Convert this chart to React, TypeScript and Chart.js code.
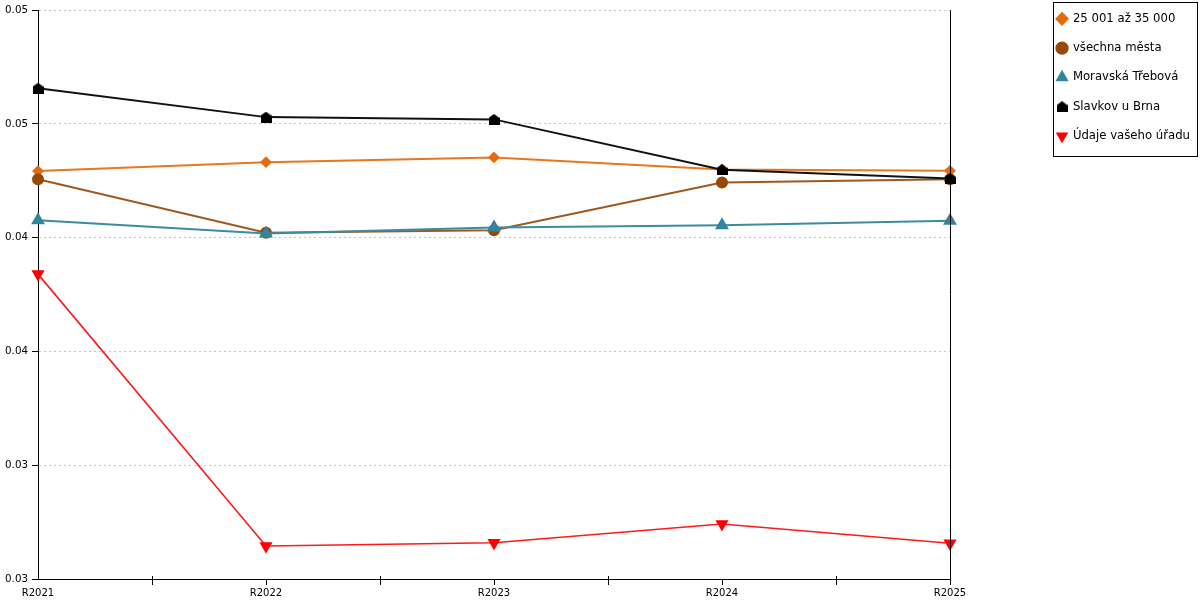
import { useEffect, useRef } from "react";
import { Chart, registerables } from "chart.js";

Chart.register(...registerables);

const years = ["R2021", "R2022", "R2023", "R2024", "R2025"];
const yTickLabels = ["0.03", "0.03", "0.04", "0.04", "0.05", "0.05"];

const sizeBand = [0.04793, 0.04832, 0.04853, 0.048, 0.04794];
const allTowns = [0.04757, 0.04522, 0.04533, 0.04743, 0.04757];
const moravskaTrebova = [0.04577, 0.04519, 0.04545, 0.04555, 0.04574];
const slavkov = [0.05157, 0.0503, 0.0502, 0.04799, 0.0476];
const yourOffice = [0.0434, 0.03145, 0.03159, 0.03242, 0.03157];

const FONT = "DejaVu Sans";

// house-shaped marker (roof + square)
function houseMarker(color: string) {
  const c = document.createElement("canvas");
  c.width = 11;
  c.height = 11;
  const ctx = c.getContext("2d")!;
  ctx.fillStyle = color;
  ctx.beginPath();
  ctx.moveTo(5.5, 0);
  ctx.lineTo(11, 4);
  ctx.lineTo(11, 11);
  ctx.lineTo(0, 11);
  ctx.lineTo(0, 4);
  ctx.closePath();
  ctx.fill();
  return c;
}

const framePlugin = {
  id: "frame",
  afterDraw(chart: any) {
    const { ctx, chartArea } = chart;
    ctx.save();
    ctx.strokeStyle = "#000";
    ctx.lineWidth = 1;
    // right border
    const rx = Math.round(chartArea.right) + 0.5;
    ctx.beginPath();
    ctx.moveTo(rx, chartArea.top);
    ctx.lineTo(rx, chartArea.bottom);
    ctx.stroke();
    // minor ticks between categories
    const x = chart.scales.x;
    ctx.beginPath();
    for (let i = 0; i < years.length - 1; i++) {
      const mx = Math.round((x.getPixelForValue(i) + x.getPixelForValue(i + 1)) / 2) + 0.5;
      ctx.moveTo(mx, chartArea.bottom - 3);
      ctx.lineTo(mx, chartArea.bottom + 6);
    }
    ctx.stroke();
    // legend border
    const boxes = chart.legend?.legendHitBoxes || [];
    if (boxes.length) {
      const left = Math.min(...boxes.map((b: any) => b.left)) - 4;
      const top = boxes[0].top - 11;
      const last = boxes[boxes.length - 1];
      const bottom = last.top + 12 + 14;
      const right = chart.width - 3;
      ctx.strokeRect(Math.round(left) + 0.5, Math.round(top) + 0.5, Math.round(right - left), Math.round(bottom - top));
    }
    ctx.restore();
  },
};

export default function App() {
  const canvasRef = useRef<HTMLCanvasElement | null>(null);

  useEffect(() => {
    if (!canvasRef.current) return;
    const house = houseMarker("#000000");

    const chart = new Chart(canvasRef.current, {
      type: "line",
      data: {
        labels: years,
        datasets: [
          {
            label: "25 001 až 35 000",
            data: sizeBand,
            borderColor: "#E8761E",
            backgroundColor: "#E46C0A",
            pointBorderColor: "#E46C0A",
            pointStyle: "rectRot",
            pointRadius: 4.5,
            borderWidth: 2,
            order: 4,
          },
          {
            label: "všechna města",
            data: allTowns,
            borderColor: "#A0581E",
            backgroundColor: "#984807",
            pointBorderColor: "#984807",
            pointStyle: "circle",
            pointRadius: 5,
            borderWidth: 2,
            order: 3,
          },
          {
            label: "Moravská Třebová",
            data: moravskaTrebova,
            borderColor: "#3A8CA2",
            backgroundColor: "#31859C",
            pointBorderColor: "#31859C",
            pointStyle: "triangle",
            pointRadius: 6,
            borderWidth: 2,
            order: 2,
          },
          {
            label: "Slavkov u Brna",
            data: slavkov,
            borderColor: "#111111",
            backgroundColor: "#000000",
            pointBorderColor: "#000000",
            pointStyle: house as any,
            pointRadius: 5,
            borderWidth: 2,
            order: 1,
          },
          {
            label: "Údaje vašeho úřadu",
            data: yourOffice,
            borderColor: "#FF1A1A",
            backgroundColor: "#FF0000",
            pointBorderColor: "#FF0000",
            pointStyle: "triangle",
            rotation: 180,
            pointRadius: 6,
            borderWidth: 1.6,
            order: 0,
          },
        ],
      },
      options: {
        animation: false,
        responsive: true,
        maintainAspectRatio: false,
        layout: { padding: { top: 6, left: 0, right: 0, bottom: 0 } },
        font: { family: FONT, size: 10 },
        elements: { line: { tension: 0 } },
        plugins: {
          title: {
            display: true,
            text: "",
            padding: { top: 2, bottom: 0 },
            font: { size: 1, lineHeight: "0px" },
          },
          tooltip: { enabled: false },
          legend: {
            position: "right",
            align: "start",
            labels: {
              usePointStyle: true,
              boxWidth: 10,
              boxHeight: 8,
              padding: 7,
              color: "#000",
              font: { family: FONT, size: 11.7, lineHeight: "22.3px" },
              sort: (a: any, b: any) => a.datasetIndex - b.datasetIndex,
              generateLabels: (c: any) => {
                const items = Chart.defaults.plugins.legend.labels.generateLabels(c);
                return items.map((it: any) => ({ ...it, text: [it.text] }));
              },
            },
          },
        },
        scales: {
          x: {
            offset: false,
            border: { color: "#000", width: 1 },
            grid: {
              drawOnChartArea: false,
              tickLength: 6,
              tickColor: (ctx: any) => (ctx.index === 0 ? "rgba(0,0,0,0)" : "#000"),
            },
            ticks: { color: "#000", font: { family: FONT, size: 10 }, padding: 2, maxRotation: 0 },
            afterFit: (s: any) => {
              s.height = 21;
            },
          },
          y: {
            min: 0.03,
            max: 0.055,
            border: { color: "#000", width: 1, dash: [2, 3] },
            grid: { color: "#c4c4c4", tickColor: "#000", tickLength: 6 },
            ticks: {
              stepSize: 0.005,
              color: "#000",
              padding: 4,
              font: { family: FONT, size: 10.3 },
              callback: (_v: any, i: number) => yTickLabels[i],
            },
            afterFit: (s: any) => {
              s.width = 38;
            },
          },
          gap: {
            type: "linear",
            position: "right",
            min: 0,
            max: 1,
            grid: { display: false },
            border: { display: false },
            ticks: { display: false },
            afterFit: (s: any) => {
              s.width = Math.max(0, 250 - (s.chart.legend?.width || 0));
            },
          },
        },
      },
      plugins: [framePlugin],
    });

    return () => {
      chart.destroy();
    };
  }, []);

  return (
    <div style={{ position: "fixed", left: 0, top: 0, width: 1200, height: 600, background: "#fff" }}>
      <canvas ref={canvasRef} />
    </div>
  );
}
